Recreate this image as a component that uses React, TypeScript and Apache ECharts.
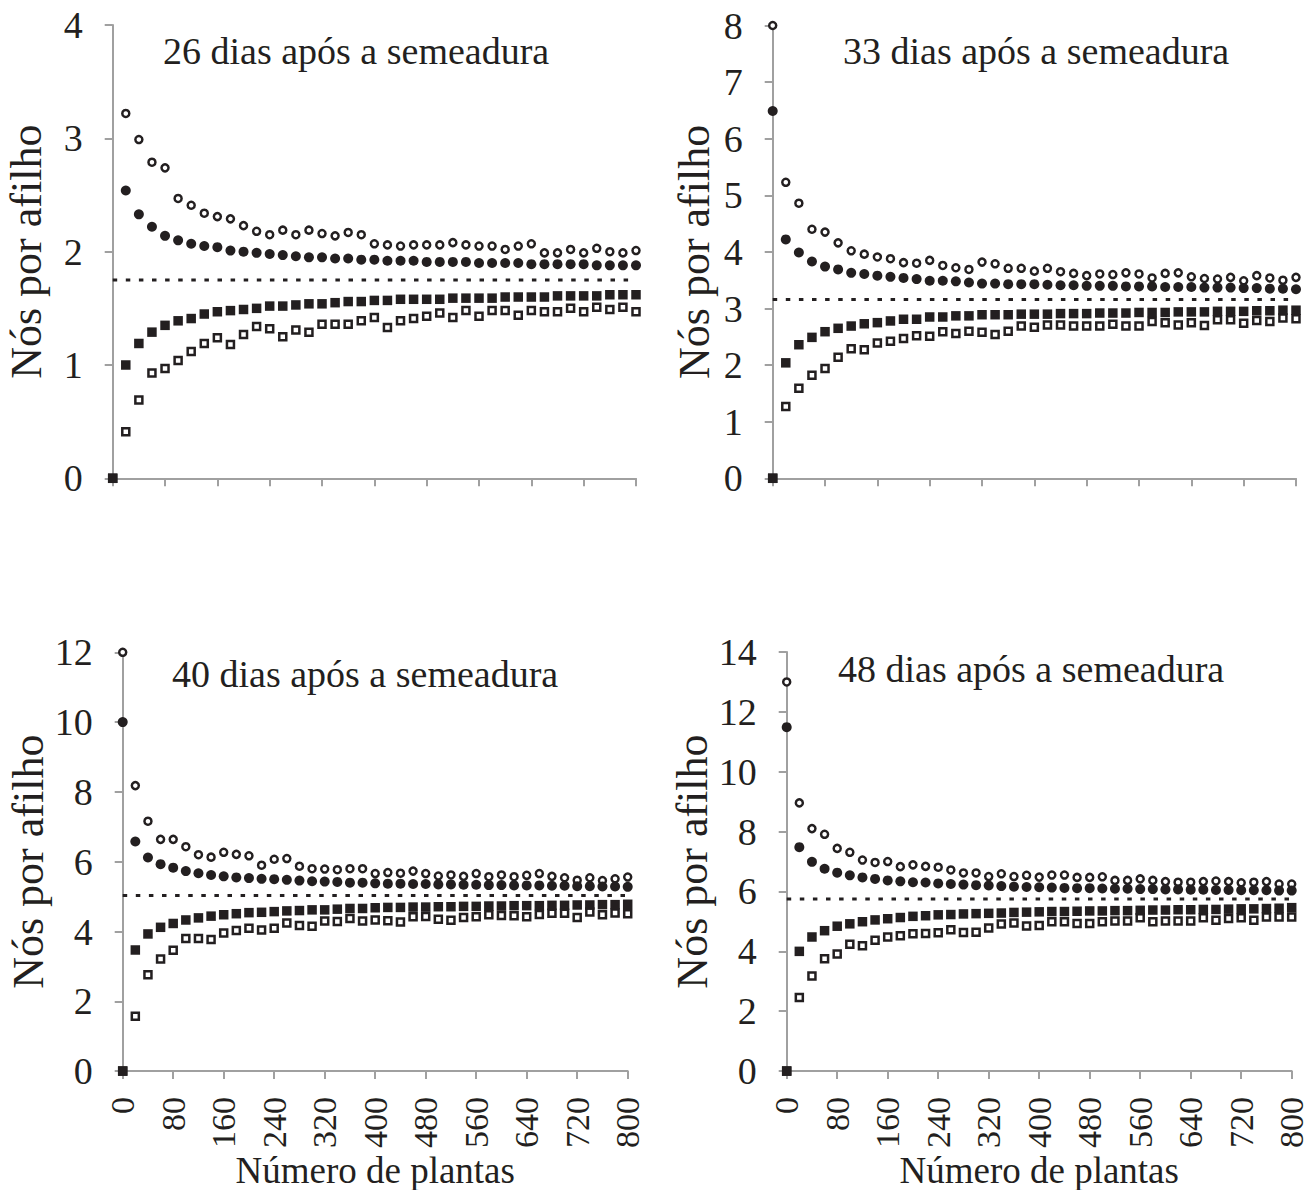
import React, { useEffect, useRef } from "react";
import * as echarts from "echarts";

// x positions (Número de plantas)
const xs = [0, 20, 40, 60, 80, 100, 120, 140, 160, 180, 200, 220, 240, 260, 280, 300, 320, 340, 360, 380, 400,
  420, 440, 460, 480, 500, 520, 540, 560, 580, 600, 620, 640, 660, 680, 700, 720, 740, 760, 780, 800];

const titles = ["26 dias após a semeadura", "33 dias após a semeadura", "40 dias após a semeadura", "48 dias após a semeadura"];
const means = [1.75, 3.16, 5.03, 5.75];

// Panel 1 — 26 dias
const p1OpenCircle = [null, 3.22, 2.99, 2.79, 2.74, 2.47, 2.41, 2.34, 2.31, 2.29, 2.23, 2.18, 2.15, 2.19, 2.15, 2.19, 2.16, 2.14, 2.17, 2.15,
  2.07, 2.06, 2.05, 2.06, 2.06, 2.06, 2.08, 2.06, 2.05, 2.05, 2.02, 2.05, 2.07, 1.99, 1.99, 2.02, 1.99, 2.03, 2.00, 1.99, 2.01];
const p1FilledCircle = [null, 2.54, 2.33, 2.22, 2.14, 2.10, 2.07, 2.05, 2.04, 2.01, 2.00, 1.99, 1.98, 1.97, 1.96, 1.95, 1.95, 1.94, 1.94, 1.93,
  1.93, 1.92, 1.92, 1.92, 1.91, 1.91, 1.91, 1.91, 1.90, 1.90, 1.90, 1.90, 1.89, 1.89, 1.89, 1.89, 1.89, 1.88, 1.88, 1.88, 1.88];
const p1FilledSquare = [0, 1.00, 1.19, 1.29, 1.35, 1.39, 1.41, 1.45, 1.47, 1.48, 1.49, 1.50, 1.52, 1.52, 1.53, 1.54, 1.54, 1.55, 1.56, 1.56,
  1.57, 1.57, 1.58, 1.58, 1.58, 1.58, 1.59, 1.59, 1.59, 1.59, 1.60, 1.60, 1.60, 1.60, 1.61, 1.61, 1.61, 1.61, 1.62, 1.62, 1.62];
const p1OpenSquare = [0, 0.41, 0.69, 0.93, 0.97, 1.04, 1.12, 1.19, 1.24, 1.18, 1.27, 1.34, 1.32, 1.25, 1.31, 1.29, 1.36, 1.36, 1.36, 1.39,
  1.42, 1.33, 1.39, 1.41, 1.43, 1.46, 1.42, 1.48, 1.43, 1.48, 1.48, 1.44, 1.48, 1.47, 1.47, 1.50, 1.47, 1.51, 1.49, 1.51, 1.47];

// Panel 2 — 33 dias
const p2OpenCircle = [8.0, 5.23, 4.86, 4.40, 4.35, 4.16, 4.02, 3.96, 3.91, 3.88, 3.81, 3.80, 3.85, 3.76, 3.72, 3.69, 3.82, 3.79, 3.71, 3.71,
  3.66, 3.71, 3.65, 3.62, 3.58, 3.61, 3.60, 3.63, 3.61, 3.54, 3.62, 3.63, 3.56, 3.53, 3.52, 3.55, 3.49, 3.58, 3.54, 3.50, 3.55];
const p2FilledCircle = [6.49, 4.22, 3.99, 3.83, 3.74, 3.69, 3.63, 3.61, 3.58, 3.56, 3.54, 3.52, 3.49, 3.49, 3.48, 3.46, 3.44, 3.44, 3.43, 3.43,
  3.43, 3.42, 3.41, 3.41, 3.40, 3.40, 3.40, 3.39, 3.39, 3.39, 3.38, 3.38, 3.38, 3.37, 3.37, 3.37, 3.36, 3.36, 3.35, 3.35, 3.34];
const p2FilledSquare = [0, 2.04, 2.36, 2.49, 2.59, 2.65, 2.69, 2.73, 2.75, 2.78, 2.81, 2.81, 2.85, 2.85, 2.87, 2.87, 2.89, 2.89, 2.89, 2.90,
  2.90, 2.90, 2.91, 2.91, 2.91, 2.92, 2.92, 2.92, 2.93, 2.93, 2.93, 2.94, 2.94, 2.94, 2.95, 2.95, 2.95, 2.96, 2.96, 2.97, 2.97];
const p2OpenSquare = [0, 1.27, 1.59, 1.82, 1.94, 2.14, 2.29, 2.27, 2.39, 2.42, 2.47, 2.52, 2.51, 2.59, 2.56, 2.60, 2.58, 2.54, 2.60, 2.69,
  2.67, 2.71, 2.71, 2.69, 2.69, 2.69, 2.72, 2.69, 2.69, 2.77, 2.75, 2.71, 2.75, 2.70, 2.80, 2.80, 2.74, 2.79, 2.77, 2.83, 2.82];

// Panel 3 — 40 dias
const p3OpenCircle = [12, 8.18, 7.16, 6.64, 6.64, 6.43, 6.20, 6.13, 6.27, 6.21, 6.17, 5.90, 6.07, 6.09, 5.87, 5.80, 5.79, 5.77, 5.80, 5.80,
  5.66, 5.69, 5.67, 5.73, 5.66, 5.59, 5.62, 5.58, 5.66, 5.57, 5.62, 5.57, 5.61, 5.66, 5.58, 5.54, 5.47, 5.54, 5.46, 5.51, 5.56];
const p3FilledCircle = [10, 6.58, 6.12, 5.93, 5.83, 5.73, 5.67, 5.62, 5.58, 5.55, 5.53, 5.51, 5.50, 5.48, 5.46, 5.44, 5.43, 5.42, 5.40, 5.40,
  5.38, 5.37, 5.37, 5.36, 5.36, 5.35, 5.35, 5.34, 5.34, 5.33, 5.33, 5.32, 5.32, 5.32, 5.31, 5.31, 5.30, 5.30, 5.29, 5.29, 5.28];
const p3FilledSquare = [0, 3.47, 3.93, 4.12, 4.23, 4.33, 4.39, 4.44, 4.48, 4.51, 4.54, 4.55, 4.57, 4.59, 4.60, 4.62, 4.62, 4.64, 4.66, 4.66,
  4.68, 4.69, 4.69, 4.70, 4.70, 4.71, 4.71, 4.72, 4.72, 4.73, 4.73, 4.74, 4.74, 4.74, 4.75, 4.75, 4.76, 4.76, 4.77, 4.77, 4.78];
const p3OpenSquare = [0, 1.57, 2.76, 3.21, 3.46, 3.80, 3.80, 3.77, 3.96, 4.03, 4.09, 4.04, 4.09, 4.24, 4.17, 4.15, 4.30, 4.29, 4.37, 4.30,
  4.33, 4.31, 4.27, 4.42, 4.43, 4.35, 4.32, 4.40, 4.42, 4.48, 4.46, 4.45, 4.42, 4.49, 4.52, 4.52, 4.40, 4.56, 4.48, 4.53, 4.51];

// Panel 4 — 48 dias
const p4OpenCircle = [13.0, 8.96, 8.10, 7.91, 7.44, 7.31, 7.05, 6.97, 7.00, 6.83, 6.89, 6.84, 6.81, 6.72, 6.62, 6.62, 6.50, 6.59, 6.50, 6.54,
  6.48, 6.55, 6.55, 6.47, 6.47, 6.49, 6.37, 6.37, 6.42, 6.37, 6.33, 6.31, 6.31, 6.33, 6.35, 6.33, 6.29, 6.31, 6.33, 6.25, 6.25];
const p4FilledCircle = [11.49, 7.48, 6.99, 6.76, 6.63, 6.54, 6.47, 6.42, 6.37, 6.34, 6.31, 6.30, 6.27, 6.25, 6.23, 6.21, 6.20, 6.18, 6.16, 6.15,
  6.14, 6.13, 6.12, 6.11, 6.11, 6.10, 6.09, 6.09, 6.08, 6.08, 6.07, 6.07, 6.06, 6.06, 6.05, 6.05, 6.04, 6.04, 6.04, 6.03, 6.03];
const p4FilledSquare = [0, 4.00, 4.48, 4.69, 4.84, 4.92, 4.99, 5.05, 5.09, 5.13, 5.17, 5.19, 5.22, 5.23, 5.25, 5.26, 5.27, 5.28, 5.30, 5.31,
  5.32, 5.33, 5.33, 5.34, 5.35, 5.35, 5.36, 5.36, 5.37, 5.38, 5.38, 5.39, 5.39, 5.40, 5.40, 5.41, 5.42, 5.42, 5.43, 5.44, 5.46];
const p4OpenSquare = [0, 2.46, 3.18, 3.75, 3.91, 4.24, 4.19, 4.37, 4.48, 4.52, 4.59, 4.60, 4.62, 4.72, 4.63, 4.64, 4.78, 4.91, 4.95, 4.85,
  4.86, 4.99, 4.99, 4.93, 4.93, 4.99, 5.01, 5.01, 5.12, 4.99, 5.01, 5.01, 5.01, 5.12, 5.04, 5.10, 5.12, 5.04, 5.15, 5.15, 5.15];

const yMax = [4, 8, 12, 14];
const yInterval = [1, 1, 2, 2];

const panels = [
  [p1OpenCircle, p1FilledCircle, p1FilledSquare, p1OpenSquare],
  [p2OpenCircle, p2FilledCircle, p2FilledSquare, p2OpenSquare],
  [p3OpenCircle, p3FilledCircle, p3FilledSquare, p3OpenSquare],
  [p4OpenCircle, p4FilledCircle, p4FilledSquare, p4OpenSquare],
];

const FONT = "'Liberation Serif', 'Times New Roman', serif";
const INK = "#231f20";
const AXIS = "#a0a0a0";

function pts(vals: (number | null)[]) {
  const out: number[][] = [];
  xs.forEach((x, i) => {
    const v = vals[i];
    if (v !== null && v !== undefined) out.push([x, v]);
  });
  return out;
}

export default function App() {
  const ref = useRef<HTMLDivElement>(null);
  useEffect(() => {
    if (!ref.current) return;
    const chart = echarts.init(ref.current, null, { renderer: "svg" });

    const grids = [
      { left: 112.7, top: 25.1, width: 523.3, height: 453.2 },
      { left: 772.7, top: 25.5, width: 523.3, height: 452.8 },
      { left: 122.7, top: 652.3, width: 505, height: 422 },
      { left: 786.7, top: 652, width: 505, height: 423 },
    ];
    const titlePos = [
      { left: 163, top: 32 },
      { left: 843, top: 32 },
      { left: 172, top: 655 },
      { left: 838, top: 650 },
    ];
    const yNameGap = [64, 56, 72, 72];

    const xAxis = grids.map((_, i) => ({
      type: "value",
      gridIndex: i,
      min: 0,
      max: 800,
      interval: 80,
      name: i >= 2 ? "Número de plantas" : "",
      nameLocation: "middle",
      nameGap: 80,
      nameTextStyle: { fontFamily: FONT, fontSize: 37, color: INK },
      axisLine: { show: true, lineStyle: { color: AXIS, width: 2 } },
      axisTick: { show: true, length: 8, lineStyle: { color: AXIS, width: 2 } },
      splitLine: { show: false },
      axisLabel: {
        show: i >= 2,
        rotate: 90,
        margin: 26,
        fontFamily: FONT,
        fontSize: 34,
        color: INK,
      },
    }));

    const yAxis = grids.map((_, i) => ({
      type: "value",
      gridIndex: i,
      min: 0,
      max: yMax[i],
      interval: yInterval[i],
      name: "Nós por afilho",
      nameLocation: "middle",
      nameRotate: 90,
      nameGap: yNameGap[i],
      nameTextStyle: { fontFamily: FONT, fontSize: 44, color: INK },
      axisLine: { show: true, lineStyle: { color: AXIS, width: 2 } },
      axisTick: { show: true, length: 8, lineStyle: { color: AXIS, width: 2 } },
      splitLine: { show: false },
      axisLabel: { margin: 30, fontFamily: FONT, fontSize: 38, color: INK },
    }));

    const series: any[] = [];
    panels.forEach((p, i) => {
      const [oc, fc, fs, os] = p;
      series.push({
        type: "line",
        xAxisIndex: i,
        yAxisIndex: i,
        data: [[0, means[i]], [800, means[i]]],
        symbol: "none",
        silent: true,
        lineStyle: { color: INK, width: 3, type: [4.5, 8.6] },
        z: 1,
      });
      series.push({
        type: "scatter", xAxisIndex: i, yAxisIndex: i, data: pts(os), clip: false,
        symbol: "rect", symbolSize: 7,
        itemStyle: { color: "#ffffff", borderColor: INK, borderWidth: 2.5, opacity: 1 },
      });
      series.push({
        type: "scatter", xAxisIndex: i, yAxisIndex: i, data: pts(fs), clip: false,
        symbol: "rect", symbolSize: 9.5,
        itemStyle: { color: INK, opacity: 1 },
      });
      series.push({
        type: "scatter", xAxisIndex: i, yAxisIndex: i, data: pts(oc), clip: false,
        symbol: "circle", symbolSize: 7,
        itemStyle: { color: "#ffffff", borderColor: INK, borderWidth: 2.5, opacity: 1 },
      });
      series.push({
        type: "scatter", xAxisIndex: i, yAxisIndex: i, data: pts(fc), clip: false,
        symbol: "circle", symbolSize: 10,
        itemStyle: { color: INK, opacity: 1 },
      });
    });

    chart.setOption({
      animation: false,
      backgroundColor: "#ffffff",
      title: titles.map((t, i) => ({
        text: t,
        left: titlePos[i].left,
        top: titlePos[i].top,
        padding: 0,
        textStyle: { fontFamily: FONT, fontSize: 38, fontWeight: "normal", color: INK },
      })),
      grid: grids,
      xAxis,
      yAxis,
      series,
    });
    return () => chart.dispose();
  }, []);

  return (
    <div
      ref={ref}
      style={{ position: "absolute", left: 0, top: 0, width: 1309, height: 1190, background: "#fff" }}
    />
  );
}
